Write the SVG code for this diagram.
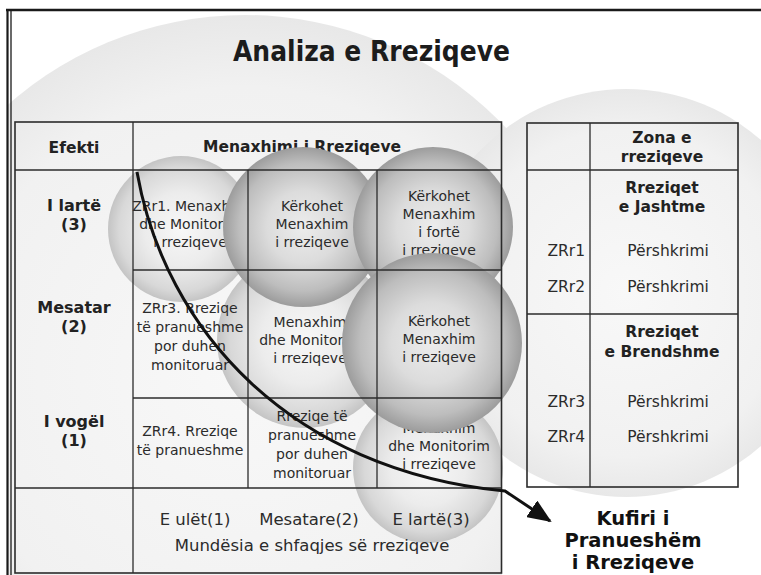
<svg xmlns="http://www.w3.org/2000/svg" width="761" height="575" viewBox="0 0 761 575">
  <style>
    text { font-family: "DejaVu Sans", Verdana, sans-serif; fill: #2b2b2b; }
    .title { font-family: "DejaVu Sans Condensed", "DejaVu Sans", sans-serif; font-stretch: condensed; font-weight: bold; font-size: 29px; fill: #1c1c1c; }
    .hd { font-weight: bold; font-size: 15.5px; text-anchor: middle; fill: #222; }
    .lv { font-weight: bold; font-size: 16px; text-anchor: middle; fill: #222; }
    .c { font-size: 14px; text-anchor: middle; }
    .rt { font-size: 15.5px; }
    .ax { font-size: 16.5px; text-anchor: middle; }
    .lbl { font-weight: bold; font-size: 19.5px; text-anchor: middle; fill: #111; }
    .grid { stroke: #2b2b2b; stroke-width: 1.3; fill: none; }
    .border { stroke: #2b2b2b; stroke-width: 1.6; fill: none; }
    .frame { stroke: #1a1a1a; fill: none; }
  </style>
  <defs>
    <radialGradient id="bgGrad" cx="50%" cy="50%" r="50%">
      <stop offset="0" stop-color="#f8f8f8"/>
      <stop offset="0.8" stop-color="#f1f1f1"/>
      <stop offset="1" stop-color="#e8e8e8"/>
    </radialGradient>
    <radialGradient id="sphereDark" cx="50%" cy="50%" r="50%">
      <stop offset="0" stop-color="#ececec"/>
      <stop offset="0.45" stop-color="#dcdcdc"/>
      <stop offset="0.8" stop-color="#bdbdbd"/>
      <stop offset="1" stop-color="#9c9c9c"/>
    </radialGradient>
    <radialGradient id="sphereLight" cx="50%" cy="50%" r="50%">
      <stop offset="0" stop-color="#f7f7f7"/>
      <stop offset="0.5" stop-color="#ececec"/>
      <stop offset="0.85" stop-color="#d8d8d8"/>
      <stop offset="1" stop-color="#c4c4c4"/>
    </radialGradient>
    <clipPath id="leftClip">
      <path d="M8,11 H761 V135 H502 V575 H8 Z"/>
    </clipPath>
    <marker id="arrowHead" markerUnits="userSpaceOnUse" viewBox="0 0 24 20" refX="22" refY="10" markerWidth="24" markerHeight="20" orient="auto">
      <path d="M0,0 L24,10 L0,20 Z" fill="#111"/>
    </marker>
  </defs>

  <!-- background discs -->
  <g id="background">
    <rect x="0" y="0" width="761" height="575" fill="#ffffff"/>
    <circle cx="245" cy="373" r="358" fill="url(#bgGrad)" clip-path="url(#leftClip)"/>
    <circle cx="626" cy="293" r="204" fill="url(#bgGrad)"/>
  </g>

  <!-- outer frame -->
  <g id="frame">
    <line class="frame" x1="6" y1="10" x2="761" y2="10" stroke-width="2.5"/>
    <line class="frame" x1="7.5" y1="9" x2="7.5" y2="575" stroke-width="2.2"/>
    <line class="frame" x1="11" y1="10" x2="11" y2="575" stroke-width="1.3"/>
  </g>

  <g id="title">
    <text class="title" x="233" y="61" textLength="277" lengthAdjust="spacingAndGlyphs">Analiza e Rreziqeve</text>
  </g>

  <!-- matrix headers and impact levels -->
  <g id="matrix-header">
    <text class="hd" x="74" y="153">Efekti</text>
    <text class="hd" x="302" y="152">Menaxhimi i Rreziqeve</text>
  </g>
  <g id="impact-levels">
    <text class="lv" x="74" y="211">I lartë</text>
    <text class="lv" x="74" y="230">(3)</text>
    <text class="lv" x="74" y="313">Mesatar</text>
    <text class="lv" x="74" y="332">(2)</text>
    <text class="lv" x="74" y="427">I vogël</text>
    <text class="lv" x="74" y="446">(1)</text>
  </g>

  <!-- matrix cells (spheres drawn in stacking order) -->
  <g id="cell-r1c1">
    <circle cx="181" cy="229" r="73" fill="url(#sphereLight)"/>
    <text class="c" x="190" y="211">ZRr1. Menaxhim</text>
    <text class="c" x="190" y="229">dhe Monitorim</text>
    <text class="c" x="190" y="247">i rreziqeve</text>
  </g>
  <g id="cell-r2c2">
    <circle cx="305" cy="340" r="88" fill="url(#sphereLight)"/>
    <text class="c" x="310" y="327">Menaxhim</text>
    <text class="c" x="310" y="345">dhe Monitorim</text>
    <text class="c" x="310" y="363">i rreziqeve</text>
  </g>
  <g id="cell-r3c3">
    <circle cx="428" cy="468" r="75" fill="url(#sphereLight)"/>
    <text class="c" x="439" y="433">Menaxhim</text>
    <text class="c" x="439" y="451">dhe Monitorim</text>
    <text class="c" x="439" y="469">i rreziqeve</text>
  </g>
  <g id="cell-r1c2">
    <circle cx="303" cy="227" r="80" fill="url(#sphereDark)"/>
    <text class="c" x="312" y="211">Kërkohet</text>
    <text class="c" x="312" y="229">Menaxhim</text>
    <text class="c" x="312" y="247">i rreziqeve</text>
  </g>
  <g id="cell-r1c3">
    <circle cx="433" cy="227" r="80" fill="url(#sphereDark)"/>
    <text class="c" x="439" y="201">Kërkohet</text>
    <text class="c" x="439" y="219">Menaxhim</text>
    <text class="c" x="439" y="237">i fortë</text>
    <text class="c" x="439" y="255">i rreziqeve</text>
  </g>
  <g id="cell-r2c1">
    <text class="c" x="190" y="313">ZRr3. Rreziqe</text>
    <text class="c" x="190" y="332">të pranueshme</text>
    <text class="c" x="190" y="351">por duhen</text>
    <text class="c" x="190" y="370">monitoruar</text>
  </g>
  <g id="cell-r3c1">
    <text class="c" x="190" y="436">ZRr4. Rreziqe</text>
    <text class="c" x="190" y="455">të pranueshme</text>
  </g>
  <g id="cell-r3c2">
    <text class="c" x="312" y="421">Rreziqe të</text>
    <text class="c" x="312" y="440">pranueshme</text>
    <text class="c" x="312" y="459">por duhen</text>
    <text class="c" x="312" y="478">monitoruar</text>
  </g>
  <g id="cell-r2c3">
    <circle cx="432" cy="343" r="90" fill="url(#sphereDark)"/>
    <text class="c" x="439" y="326">Kërkohet</text>
    <text class="c" x="439" y="344">Menaxhim</text>
    <text class="c" x="439" y="362">i rreziqeve</text>
  </g>

  <!-- likelihood axis -->
  <g id="likelihood-axis">
    <text class="ax" x="195" y="525">E ulët(1)</text>
    <text class="ax" x="309" y="525">Mesatare(2)</text>
    <text class="ax" x="431" y="525">E lartë(3)</text>
    <text class="ax" x="312" y="551">Mundësia e shfaqjes së rreziqeve</text>
  </g>

  <!-- matrix grid -->
  <g id="matrix-grid">
    <rect class="border" x="15" y="122" width="486.5" height="451"/>
    <line class="grid" x1="15" y1="170" x2="501.5" y2="170"/>
    <line class="grid" x1="133" y1="270" x2="501.5" y2="270"/>
    <line class="grid" x1="133" y1="398" x2="501.5" y2="398"/>
    <line class="grid" x1="15" y1="488" x2="501.5" y2="488"/>
    <line class="grid" x1="133" y1="122" x2="133" y2="573"/>
    <line class="grid" x1="248" y1="170" x2="248" y2="488"/>
    <line class="grid" x1="377" y1="170" x2="377" y2="488"/>
  </g>

  <!-- risk zone table -->
  <g id="zone-table">
    <rect class="border" x="527" y="123" width="211" height="364"/>
    <line class="grid" x1="590" y1="123" x2="590" y2="487"/>
    <line class="grid" x1="527" y1="170" x2="738" y2="170"/>
    <line class="grid" x1="527" y1="314" x2="738" y2="314"/>
    <text class="hd" x="662" y="143">Zona e</text>
    <text class="hd" x="662" y="162">rreziqeve</text>
    <text class="hd" x="662" y="193">Rreziqet</text>
    <text class="hd" x="662" y="212">e Jashtme</text>
    <text class="rt" x="585" y="256" text-anchor="end">ZRr1</text>
    <text class="rt" x="668" y="256" text-anchor="middle">Përshkrimi</text>
    <text class="rt" x="585" y="292" text-anchor="end">ZRr2</text>
    <text class="rt" x="668" y="292" text-anchor="middle">Përshkrimi</text>
    <text class="hd" x="662" y="337">Rreziqet</text>
    <text class="hd" x="662" y="357">e Brendshme</text>
    <text class="rt" x="585" y="407" text-anchor="end">ZRr3</text>
    <text class="rt" x="668" y="407" text-anchor="middle">Përshkrimi</text>
    <text class="rt" x="585" y="442" text-anchor="end">ZRr4</text>
    <text class="rt" x="668" y="442" text-anchor="middle">Përshkrimi</text>
  </g>

  <!-- acceptance boundary curve -->
  <g id="connectors">
    <path d="M137,172 C165,330 290,470 505,491 L550,521" fill="none" stroke="#111" stroke-width="3" marker-end="url(#arrowHead)"/>
  </g>

  <g id="boundary-label">
    <text class="lbl" x="633" y="525">Kufiri i</text>
    <text class="lbl" x="633" y="547">Pranueshëm</text>
    <text class="lbl" x="633" y="569">i Rreziqeve</text>
  </g>
</svg>
